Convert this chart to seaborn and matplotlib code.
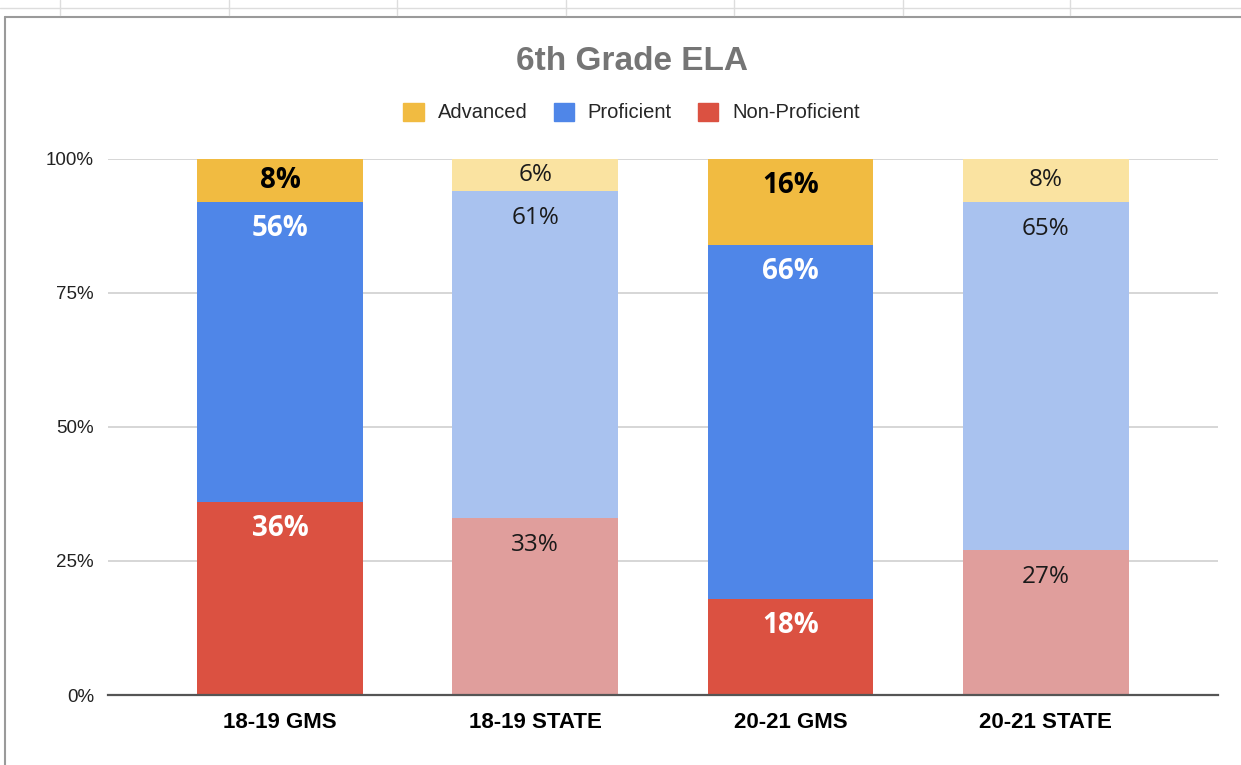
import numpy as np
import pandas as pd
import matplotlib.pyplot as plt
import matplotlib.patches as mpatches
from matplotlib.lines import Line2D
import seaborn as sns

# data
groups = ['18-19 GMS', '18-19 STATE', '20-21 GMS', '20-21 STATE']
non_proficient = [36, 33, 18, 27]
proficient = [56, 61, 66, 65]
advanced = [8, 6, 16, 8]
y_ticks = [0, 25, 50, 75, 100]

# colours: full for GMS, faded for STATE
adv_colors = ['#F1BB41', '#FAE3A1', '#F1BB41', '#FAE3A1']
prof_colors = ['#4F86E8', '#A9C2EF', '#4F86E8', '#A9C2EF']
np_colors = ['#DB5141', '#E09E9C', '#DB5141', '#E09E9C']

df = pd.DataFrame({'group': groups, 'np': non_proficient,
                   'prof': proficient, 'adv': advanced})
df['prof_top'] = df['np'] + df['prof']
df['adv_top'] = df['prof_top'] + df['adv']

sns.set_style('white')
plt.rcParams['font.family'] = ['Liberation Sans', 'DejaVu Sans']

fig = plt.figure(figsize=(12.41, 7.65), dpi=100)
ax = fig.add_axes([0.087, 0.0915, 0.8944, 0.7007])

# stacked bars drawn back to front (cumulative heights)
for col, cols in [('adv_top', adv_colors), ('prof_top', prof_colors), ('np', np_colors)]:
    sns.barplot(data=df, x='group', y=col, hue='group', order=groups,
                palette=dict(zip(groups, cols)), saturation=1, width=0.65,
                legend=False, ax=ax, zorder=3, linewidth=0)

# labels near top of each segment
for i, g in enumerate(groups):
    gms = 'GMS' in g
    segs = [(df['np'][i], non_proficient[i], 'white'),
            (df['prof_top'][i], proficient[i], 'white'),
            (df['adv_top'][i], advanced[i], 'black')]
    for top, h, c in segs:
        y = top - min(5.0, h / 2)
        if gms:
            ax.text(i, y, f'{h}%', ha='center', va='center', fontsize=20,
                    fontweight='bold', color=c, family=['Open Sans', 'DejaVu Sans'], zorder=5)
        else:
            ax.text(i, y, f'{h}%', ha='center', va='center', fontsize=17.5,
                    color='#1a1a1a', family=['Open Sans', 'DejaVu Sans'], zorder=5)

ax.set_xlim(-0.675, 3.675)
ax.set_ylim(0, 100)
ax.set_yticks(y_ticks)
ax.set_yticklabels([f'{t}%' for t in y_ticks], fontsize=13.5, color='#222222')
ax.grid(axis='y', color='#d0d0d0', linewidth=1.2, zorder=0)
ax.set_axisbelow(True)
ax.tick_params(axis='y', length=0, pad=10)
ax.tick_params(axis='x', length=0, pad=12)
for lbl in ax.get_xticklabels():
    lbl.set_fontweight('bold')
    lbl.set_fontsize(16)
    lbl.set_color('black')
ax.set_xlabel('')
ax.set_ylabel('')
for s in ['top', 'right', 'left']:
    ax.spines[s].set_visible(False)
ax.spines['bottom'].set_color('#555555')
ax.spines['bottom'].set_linewidth(1.6)
ax.spines['bottom'].set_zorder(4)

# title and legend
fig.text(0.509, 0.919, '6th Grade ELA', ha='center', va='center', fontsize=24,
         fontweight='bold', color='#757575')
handles = [mpatches.Patch(color='#F1BB41', label='Advanced'),
           mpatches.Patch(color='#4F86E8', label='Proficient'),
           mpatches.Patch(color='#DB5141', label='Non-Proficient')]
fig.legend(handles=handles, loc='center', bbox_to_anchor=(0.509, 0.853), ncol=3,
           frameon=False, fontsize=14.5, handlelength=1.0, handleheight=1.0,
           columnspacing=1.3, handletextpad=0.7)

# sheet frame around the chart
fig.add_artist(Line2D([0.004, 0.004], [0.0, 0.978], color='#9a9a9a', linewidth=1.5))
fig.add_artist(Line2D([0.004, 1.0], [0.978, 0.978], color='#9a9a9a', linewidth=1.5))
fig.add_artist(Line2D([0.0, 1.0], [0.99, 0.99], color='#dddddd', linewidth=1))
for xp in [60, 229, 397, 566, 734, 903, 1070]:
    fig.add_artist(Line2D([xp / 1241, xp / 1241], [0.98, 1.0], color='#dddddd', linewidth=1))

fig.savefig('out.png', dpi=100)
